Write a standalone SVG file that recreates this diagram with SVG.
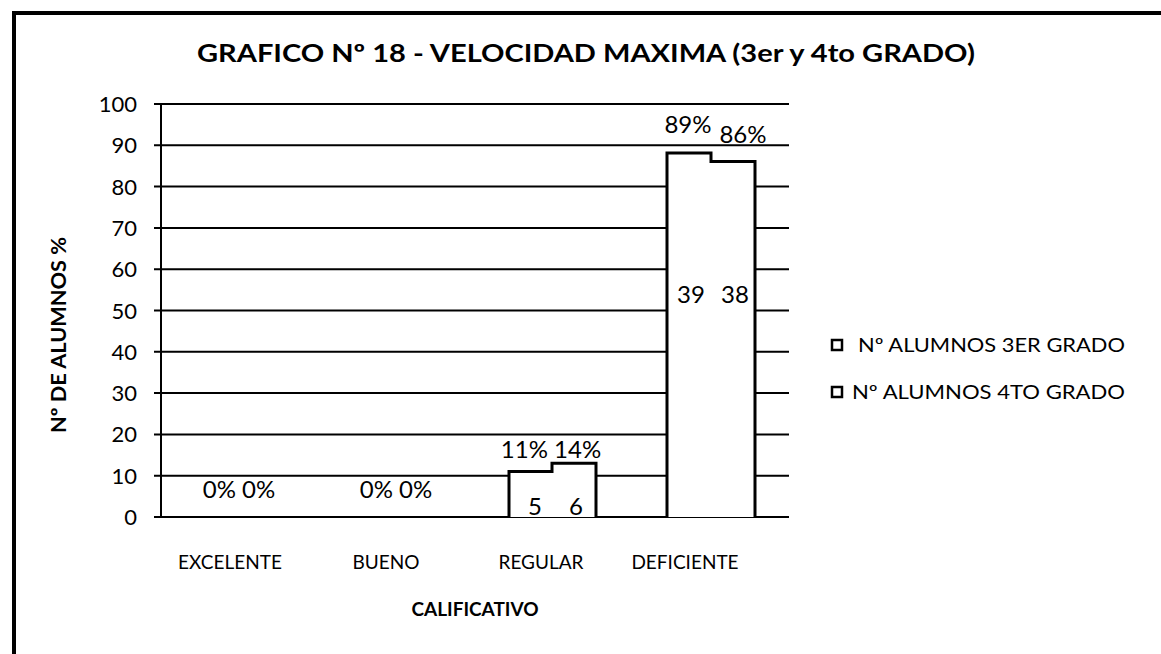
<svg xmlns="http://www.w3.org/2000/svg" width="1161" height="654" viewBox="0 0 1161 654">
<style>
text{font-family:Lato,"Liberation Sans",sans-serif;fill:#000}
.ax{font-size:22px;text-anchor:end}
.dl{font-size:24px;text-anchor:middle}
.cat{font-size:19px;text-anchor:middle}
.grid{stroke:#000;stroke-width:2;fill:none}
.bar{fill:#fff;stroke:#000;stroke-width:3;stroke-linejoin:miter}
.leg{fill:#fff;stroke:#000;stroke-width:2.5}
</style>
<rect x="0" y="0" width="1161" height="654" fill="#fff"/>
<g id="frame"><path d="M14,654 V13 H1161" fill="none" stroke="#000" stroke-width="4"/></g>
<g id="title"><text x="586" y="62" font-size="25" font-weight="bold" text-anchor="middle" textLength="778" lengthAdjust="spacingAndGlyphs">GRAFICO Nº 18 - VELOCIDAD MAXIMA (3er y 4to GRADO)</text></g>
<g id="axes">
<g class="grid">
<path d="M154,104H789M154,145.3H789M154,186.6H789M154,227.9H789M154,269.2H789M154,310.5H789M154,351.8H789M154,393.1H789M154,434.4H789M154,475.7H789M154,517H789"/>
<path d="M161,104V517"/>
</g>
<text class="ax" x="137" y="112">100</text>
<text class="ax" x="137" y="153.3">90</text>
<text class="ax" x="137" y="194.6">80</text>
<text class="ax" x="137" y="235.9">70</text>
<text class="ax" x="137" y="277.2">60</text>
<text class="ax" x="137" y="318.5">50</text>
<text class="ax" x="137" y="359.8">40</text>
<text class="ax" x="137" y="401.1">30</text>
<text class="ax" x="137" y="442.4">20</text>
<text class="ax" x="137" y="483.7">10</text>
<text class="ax" x="137" y="525">0</text>
<text transform="translate(66,335) rotate(-90)" font-size="20" font-weight="bold" text-anchor="middle" textLength="196" lengthAdjust="spacingAndGlyphs">Nº DE ALUMNOS %</text>
<text x="475" y="616" font-size="19" font-weight="bold" text-anchor="middle">CALIFICATIVO</text>
</g>
<g id="cat-excelente">
<text class="cat" x="230" y="569">EXCELENTE</text>
<text class="dl" x="239" y="498">0% 0%</text>
</g>
<g id="cat-bueno">
<text class="cat" x="386" y="569">BUENO</text>
<text class="dl" x="396" y="498">0% 0%</text>
</g>
<g id="cat-regular">
<path class="bar" d="M509,517V471.5H552V463.3H596V517"/>
<text class="dl" x="551" y="458">11% 14%</text>
<text class="dl" x="535" y="515">5</text>
<text class="dl" x="576" y="515">6</text>
<text class="cat" x="541" y="569">REGULAR</text>
</g>
<g id="cat-deficiente">
<path class="bar" d="M667,517V153H711V161.5H755V517"/>
<text class="dl" x="688" y="133">89%</text>
<text class="dl" x="743" y="143">86%</text>
<text class="dl" x="691" y="303">39</text>
<text class="dl" x="735" y="303">38</text>
<text class="cat" x="685" y="569">DEFICIENTE</text>
</g>
<g id="legend">
<rect class="leg" x="832" y="340" width="10" height="10"/>
<text x="858" y="352" font-size="19" textLength="267" lengthAdjust="spacingAndGlyphs">Nº ALUMNOS 3ER GRADO</text>
<rect class="leg" x="832" y="387" width="10" height="10"/>
<text x="852" y="399" font-size="19" textLength="273" lengthAdjust="spacingAndGlyphs">Nº ALUMNOS 4TO GRADO</text>
</g>
</svg>
